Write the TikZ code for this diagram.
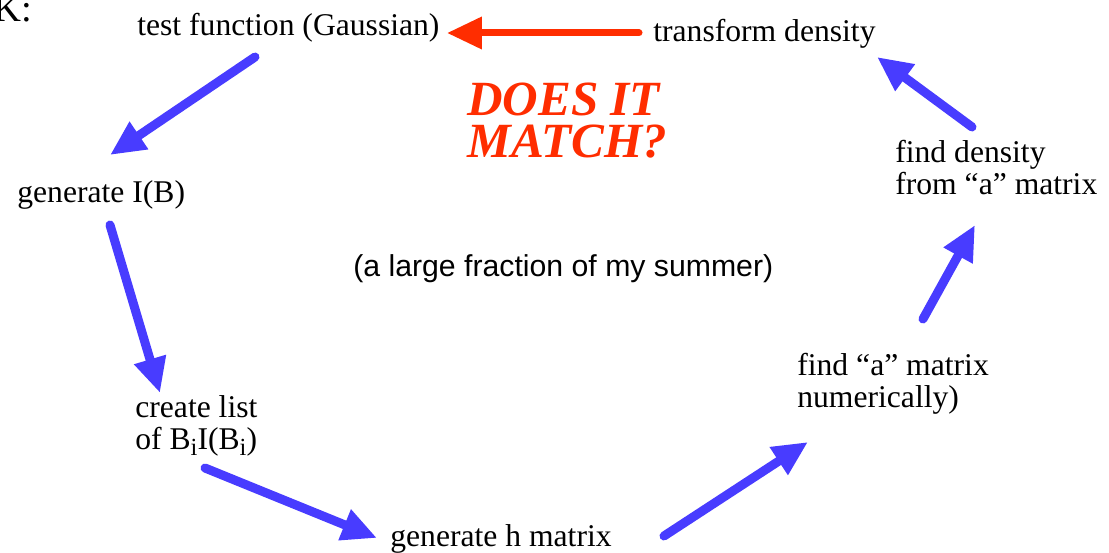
\documentclass[tikz,border=0pt]{standalone}
\usepackage{fontspec}
\setmainfont{Liberation Serif}
\newfontfamily\helv{Liberation Sans}
\usetikzlibrary{arrows.meta, calc}
\definecolor{cBlue}{RGB}{72,60,255}
\definecolor{cRed}{RGB}{255,45,0}
\tikzset{
  lbl/.style={anchor=base west, inner sep=0pt, align=left,
              font=\fontsize{18}{18.5}\selectfont},
  myarr/.style={-{Triangle[length=0.7cm, width=0.62cm]},
                line width=0.18cm, line cap=round},
  aBlue/.style={myarr, color=cBlue},
  aRed/.style ={myarr, color=cRed, line width=0.14cm},
}
\newcommand{\lowi}{\raisebox{-0.35ex}{\fontsize{14}{14}\selectfont i}}

\begin{document}
\begin{tikzpicture}[x=0.02cm, y=-0.02cm]
\useasboundingbox (0,0) rectangle (1109,553);

%% ============================================================
%% STEP LABELS  -- loop, clockwise from the top
%%   (base west = baseline of the LAST line)
%% ============================================================
\node[lbl, font=\fontsize{22}{22}\selectfont] (corner) at (-7,22) {K:};

\node[lbl] (testfn) at (137,36)  {test function (Gaussian)};
\node[lbl] (transf) at (653,42)  {transform density};
\node[lbl] (genI)   at (17,203)  {generate I(B)};
\node[lbl] (blist)  at (135,450) {create list\\of B\lowi I(B\lowi)};
\node[lbl] (genh)   at (390,547) {generate h matrix};
\node[lbl] (finda)  at (797,408) {find ``a'' matrix\\numerically)};
\node[lbl] (findd)  at (895,195) {find density\\from ``a'' matrix};

%% ============================================================
%% CENTRE TEXTS
%% ============================================================
\node[lbl, text=cRed, font=\fontsize{28}{24}\selectfont\bfseries\itshape]
  (match) at (467,158) {DOES IT\\MATCH?};

\node[lbl, font=\helv\fontsize{17.2}{17.2}\selectfont]
  (summer) at (353,277) {(a large fraction of my summer)};

%% ============================================================
%% BLUE ARROWS  (down the left, up the right)
%% ============================================================
\draw[aBlue] ($(testfn.base west)+(118,21)$) -- ($(genI.base west)+(93,-48)$);
\draw[aBlue] ($(genI.base west)+(93,22)$)    -- ($(blist.base west)+(25,-57)$);
\draw[aBlue] ($(blist.base west)+(70,18)$)   -- ($(genh.base west)+(-13,-9)$);
\draw[aBlue] ($(genh.base west)+(274,-11)$)  -- ($(finda.base west)+(11,34)$);
\draw[aBlue] ($(finda.base west)+(126,-89)$) -- ($(findd.base west)+(80,30)$);
\draw[aBlue] ($(findd.base west)+(77,-68)$)  -- ($(transf.base west)+(224,15)$);

%% ============================================================
%% RED ARROW  (back to the test function)
%% ============================================================
\draw[aRed] ($(transf.base west)+(-14,-9)$) -- ($(testfn.base west)+(310,-3)$);

\end{tikzpicture}
\end{document}
